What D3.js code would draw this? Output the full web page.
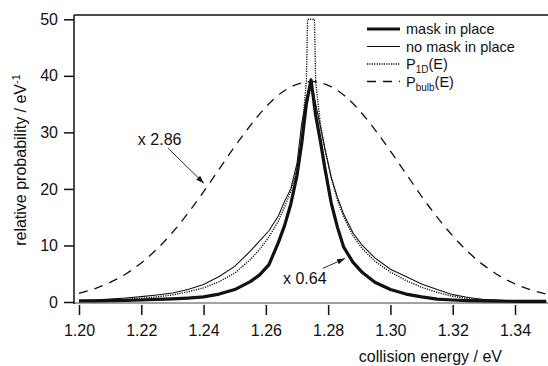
<!DOCTYPE html>
<html>
<head>
<meta charset="utf-8">
<script src="https://cdn.jsdelivr.net/npm/d3@7"></script>
<style>
  body { margin: 0; background: #fff; }
  text { font-family: "Liberation Sans", Arial, Helvetica, sans-serif; fill: #111; }
</style>
</head>
<body>
<div id="chart"></div>
<script>
// data
var energy = [1.200, 1.205, 1.210, 1.215, 1.220, 1.225, 1.230, 1.235, 1.240, 1.245,
    1.250, 1.255, 1.258, 1.261, 1.264, 1.266, 1.268, 1.270, 1.2715, 1.273,
    1.2745, 1.276, 1.2775, 1.279, 1.281, 1.283, 1.285, 1.288, 1.291, 1.295,
    1.300, 1.305, 1.310, 1.315, 1.320, 1.325, 1.330, 1.335, 1.340, 1.345, 1.350];

var maskInPlace = [0.2, 0.2, 0.25, 0.3, 0.35, 0.45, 0.55, 0.7, 0.9, 1.4,
    2.2, 3.6, 4.8, 6.6, 10.5, 13.5, 17.3, 22.4, 28, 35,
    39.3, 33, 28.5, 23.5, 17.5, 13.2, 9.7, 7.0, 5.2, 3.5,
    2.2, 1.4, 0.9, 0.5, 0.35, 0.25, 0.2, 0.15, 0.12, 0.1, 0.1];

var noMask = [0.2, 0.35, 0.5, 0.7, 0.95, 1.25, 1.6, 2.2, 3.1, 4.5,
    6.3, 9.0, 10.8, 12.6, 15.2, 17.8, 20.0, 24.5, 31.5, 36,
    39.3, 35, 31, 27, 22, 18.5, 15.5, 12.2, 10.0, 7.8,
    5.8, 4.5, 3.2, 2.2, 1.3, 0.8, 0.45, 0.3, 0.2, 0.15, 0.1];

var p1dEnergy = [1.200, 1.205, 1.210, 1.215, 1.220, 1.225, 1.230, 1.235, 1.240, 1.245,
    1.250, 1.255, 1.258, 1.261, 1.264, 1.266, 1.268, 1.270, 1.2715, 1.273,
    1.2734, 1.2756, 1.276, 1.2775, 1.279, 1.281, 1.283, 1.285, 1.288, 1.291, 1.295,
    1.300, 1.305, 1.310, 1.315, 1.320, 1.325, 1.330, 1.335, 1.340, 1.345, 1.350];

var p1d = [0.1, 0.2, 0.3, 0.45, 0.65, 0.9, 1.25, 1.8, 2.5, 3.6,
    5.1, 7.5, 9.3, 11.5, 14.3, 16.8, 19.6, 23.5, 29.5, 39,
    50, 50, 39, 31.5, 27, 22, 18, 15, 11.7, 9.4, 7.2,
    5.3, 3.8, 2.6, 1.7, 1.0, 0.6, 0.35, 0.25, 0.15, 0.1, 0.1];

var bulbEnergy = [1.200, 1.205, 1.210, 1.215, 1.220, 1.225, 1.230, 1.235, 1.240, 1.245,
    1.250, 1.255, 1.260, 1.265, 1.270, 1.275, 1.280, 1.285, 1.290, 1.295,
    1.300, 1.305, 1.310, 1.315, 1.320, 1.325, 1.330, 1.335, 1.340, 1.345, 1.350];

var pBulb = [1.54, 2.34, 3.46, 4.96, 6.91, 9.35, 12.3, 15.7, 19.5, 23.5,
    27.5, 31.2, 34.5, 37.0, 38.5, 39.0, 38.3, 36.6, 33.9, 30.5,
    26.7, 22.7, 18.7, 15.0, 11.7, 8.83, 6.48, 4.62, 3.20, 2.15, 1.41];

var xTicks = [1.20, 1.22, 1.24, 1.26, 1.28, 1.30, 1.32, 1.34];
var yTicks = [0, 10, 20, 30, 40, 50];

// STEP 1: SVG
var svgWidth = 548;
var svgHeight = 366;
var plot = { left: 74, right: 548, top: 15, bottom: 303 };

var svg = d3.select("#chart")
    .append("svg")
    .attr("width", svgWidth)
    .attr("height", svgHeight);

// STEP 2: scales
var xScale = d3.scaleLinear()
    .domain([1.20, 1.34])
    .range([79, 515]);

var yScale = d3.scaleLinear()
    .domain([0, 50])
    .range([302, 19.3]);

// STEP 3: frame and axes
svg.append("line")
    .attr("x1", plot.left).attr("x2", plot.right)
    .attr("y1", plot.top).attr("y2", plot.top)
    .attr("stroke", "#111").attr("stroke-width", 1.5);

svg.append("line")
    .attr("x1", plot.left).attr("x2", plot.right)
    .attr("y1", plot.bottom).attr("y2", plot.bottom)
    .attr("stroke", "#444").attr("stroke-width", 1);

var yAxis = svg.append("g")
    .attr("transform", `translate(${plot.left}, 0)`)
    .call(d3.axisLeft(yScale).tickValues(yTicks).tickSize(10).tickSizeOuter(0).tickPadding(6));
yAxis.select(".domain").remove();
yAxis.append("line")
    .attr("y1", plot.top).attr("y2", plot.bottom + 1)
    .attr("stroke", "#111").attr("stroke-width", 1.5);

var xAxis = svg.append("g")
    .attr("transform", `translate(0, ${plot.bottom + 2})`)
    .call(d3.axisBottom(xScale).tickValues(xTicks).tickFormat(d3.format(".2f")).tickSize(10).tickPadding(10));
xAxis.select(".domain").remove();

svg.selectAll(".tick line").attr("stroke", "#111").attr("stroke-width", 1.5);
svg.selectAll(".tick text")
    .attr("font-size", "16px")
    .attr("font-family", "Liberation Sans, Arial, sans-serif")
    .attr("fill", "#111");

// STEP 4: curves
svg.append("clipPath").attr("id", "clip")
    .append("rect")
    .attr("x", plot.left).attr("y", plot.top)
    .attr("width", plot.right - plot.left).attr("height", plot.bottom - plot.top + 5);

var curves = svg.append("g").attr("clip-path", "url(#clip)");

var line = d3.line()
    .x(d => xScale(d[0]))
    .y(d => yScale(d[1]));

var smoothLine = d3.line()
    .x(d => xScale(d[0]))
    .y(d => yScale(d[1]))
    .curve(d3.curveMonotoneX);

curves.append("path")
    .attr("d", smoothLine(d3.zip(bulbEnergy, pBulb)))
    .attr("fill", "none").attr("stroke", "#111")
    .attr("stroke-width", 1.3).attr("stroke-dasharray", "9,7");

curves.append("path")
    .attr("d", line(d3.zip(p1dEnergy, p1d)))
    .attr("fill", "none").attr("stroke", "#111")
    .attr("stroke-width", 1.4).attr("stroke-dasharray", "1.2,1.2");

curves.append("path")
    .attr("d", line(d3.zip(energy, noMask)))
    .attr("fill", "none").attr("stroke", "#111")
    .attr("stroke-width", 1.1);

curves.append("path")
    .attr("d", line(d3.zip(energy, maskInPlace)))
    .attr("fill", "none").attr("stroke", "#111")
    .attr("stroke-width", 3.2).attr("stroke-linejoin", "round");

// STEP 5: annotations
svg.append("defs").append("marker")
    .attr("id", "arrow")
    .attr("viewBox", "0 0 10 10")
    .attr("refX", 10).attr("refY", 5)
    .attr("markerWidth", 8).attr("markerHeight", 8)
    .attr("markerUnits", "userSpaceOnUse")
    .attr("orient", "auto")
    .append("path")
    .attr("d", "M0,1.5L10,5L0,8.5Z")
    .attr("fill", "#111");

var notes = [
    { text: "x 2.86", tx: 1.2189, ty: 27.7, x1: 1.2286, y1: 27.2, x2: 1.2401, y2: 21.0 },
    { text: "x 0.64", tx: 1.2655, ty: 3.2, x1: 1.2783, y1: 5.95, x2: 1.2854, y2: 7.7 }
];

notes.forEach(function(n) {
    svg.append("line")
        .attr("x1", xScale(n.x1)).attr("y1", yScale(n.y1))
        .attr("x2", xScale(n.x2)).attr("y2", yScale(n.y2))
        .attr("stroke", "#111").attr("stroke-width", 0.9)
        .attr("marker-end", "url(#arrow)");
    svg.append("text")
        .attr("x", xScale(n.tx))
        .attr("y", yScale(n.ty))
        .attr("font-size", "16px")
        .text(n.text);
});

// STEP 6: legend
var legendRows = [
    { label: "mask in place", sub: null, after: null, width: 3.2, dash: null },
    { label: "no mask in place", sub: null, after: null, width: 1.1, dash: null },
    { label: "P", sub: "1D", after: "(E)", width: 1.3, dash: "1.2,1.2" },
    { label: "P", sub: "bulb", after: "(E)", width: 1.3, dash: "9,7" }
];
var legendY = [29, 46.5, 64, 81.5];

legendRows.forEach(function(r, i) {
    var yy = legendY[i];
    svg.append("line")
        .attr("x1", 367).attr("x2", 400)
        .attr("y1", yy).attr("y2", yy)
        .attr("stroke", "#111")
        .attr("stroke-width", r.width)
        .attr("stroke-dasharray", r.dash);
    var t = svg.append("text")
        .attr("x", 406)
        .attr("y", yy + 5)
        .attr("font-size", "14.5px");
    t.append("tspan").text(r.label);
    if (r.sub) {
        t.append("tspan").attr("dy", 4).attr("font-size", "10px").text(r.sub);
        t.append("tspan").attr("dy", -4).text(r.after);
    }
});

// STEP 7: axis titles
var yTitle = svg.append("text")
    .attr("transform", "translate(26, 160) rotate(-90)")
    .attr("text-anchor", "middle")
    .attr("font-size", "16px");
yTitle.append("tspan").text("relative probability / eV");
yTitle.append("tspan").attr("dy", -6).attr("font-size", "11px").text("-1");

svg.append("text")
    .attr("x", 502)
    .attr("y", 362)
    .attr("text-anchor", "end")
    .attr("font-size", "16px")
    .text("collision energy / eV");
</script>
</body>
</html>
